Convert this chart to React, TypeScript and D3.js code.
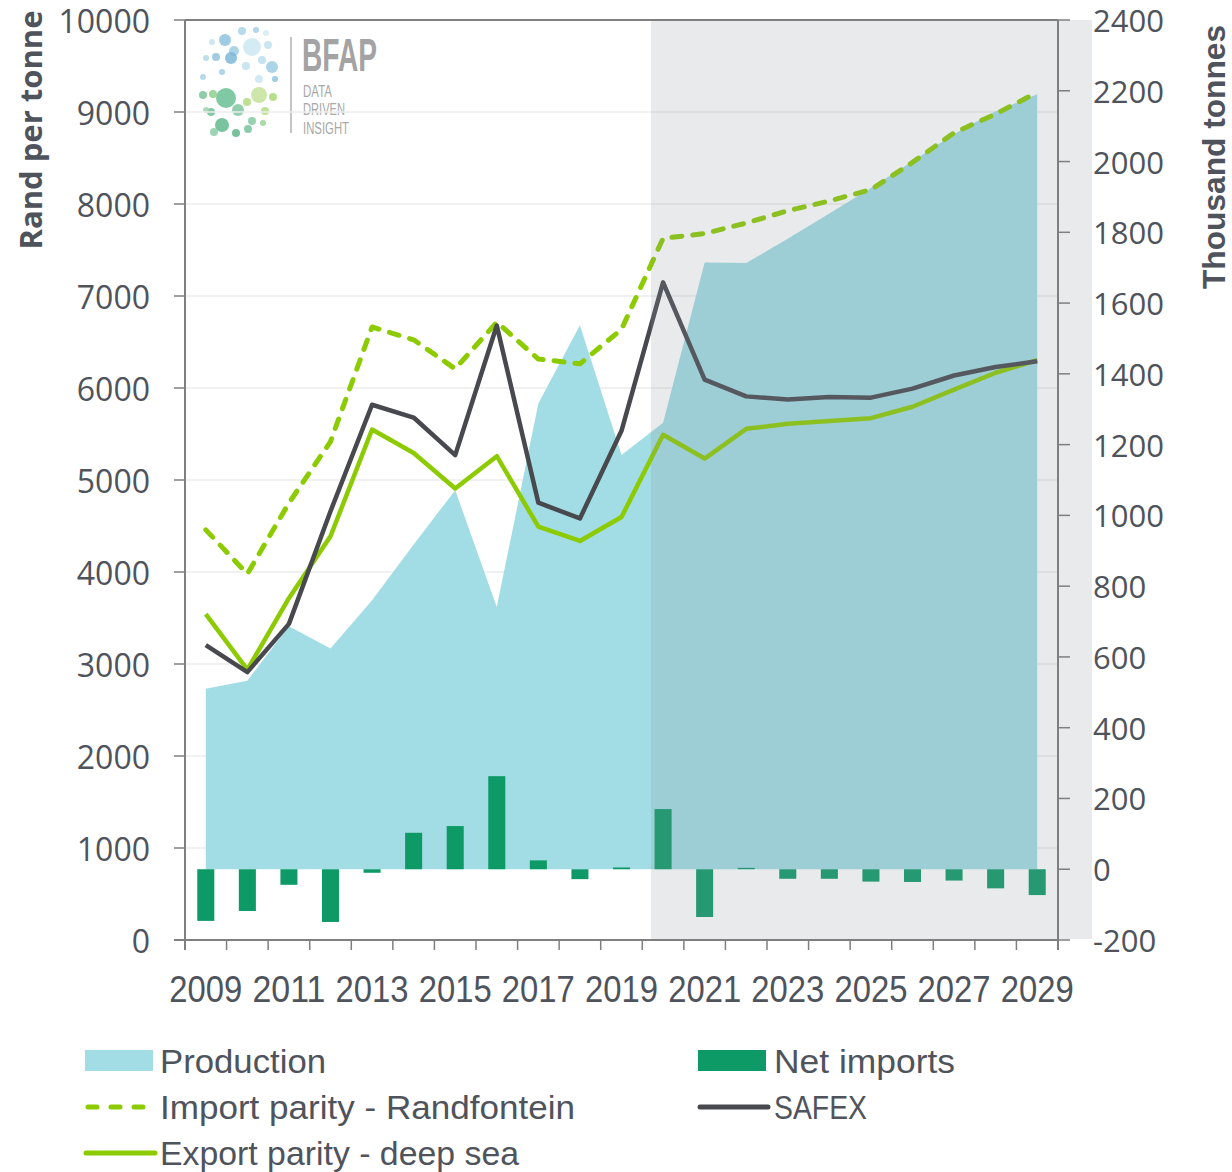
import React, { useEffect, useRef } from 'react';
import * as d3 from 'd3';

const years = ['2009', '2010', '2011', '2012', '2013', '2014', '2015', '2016', '2017', '2018', '2019',
  '2020', '2021', '2022', '2023', '2024', '2025', '2026', '2027', '2028', '2029'];
const labelYears = ['2009', '2011', '2013', '2015', '2017', '2019', '2021', '2023', '2025', '2027', '2029'];

// thousand tonnes (right axis)
const production = [510, 533, 687, 624, 760, 918, 1071, 741, 1316, 1537, 1171, 1262, 1715, 1713, 1782, 1853, 1925, 2001, 2078, 2142, 2190];
const netImports = [-146, -118, -44, -149, -10, 103, 122, 263, 25, -28, 5, 170, -135, 4, -27, -27, -35, -36, -32, -54, -73];

// rand per tonne (left axis)
const importParity = [4458, 3979, 4750, 5418, 6663, 6524, 6208, 6716, 6315, 6263, 6638, 7627, 7679, 7793, 7927, 8033, 8157, 8453, 8774, 8978, 9213];
const safex = [3204, 2912, 3436, 4660, 5818, 5679, 5271, 6679, 4753, 4582, 5535, 7148, 6091, 5909, 5876, 5901, 5895, 5993, 6136, 6228, 6290];
const exportParity = [3543, 2939, 3715, 4388, 5549, 5293, 4908, 5259, 4493, 4337, 4598, 5492, 5233, 5556, 5611, 5641, 5672, 5796, 5982, 6166, 6302];

const leftTicks = [0, 1000, 2000, 3000, 4000, 5000, 6000, 7000, 8000, 9000, 10000];
const rightTicks = [-200, 0, 200, 400, 600, 800, 1000, 1200, 1400, 1600, 1800, 2000, 2200, 2400];
const projectionStart = '2020';

const TEXT = '#4f535c';
const AXIS = '#7f7f7f';
const LIME = '#8ccb00';
const NUM_FONT = '"Open Sans", "DejaVu Sans", sans-serif';
// no narrow face installed: squeeze Liberation Sans with textLength
const NARROW = '"Liberation Sans", Arial, sans-serif';

const App: React.FC = () => {
  const svgRef = useRef<SVGSVGElement>(null);

  useEffect(() => {
    if (!svgRef.current) return;
    const W = 1232, H = 1172;
    const left = 185, right = 1058, top = 20, bottom = 940;

    const svg = d3.select(svgRef.current);
    svg.selectAll('*').remove();
    svg.attr('width', W).attr('height', H);

    // narrow text helper
    const narrow = (g: any, txt: string, px: number, py: number, size: number, len: number, anchor = 'start') =>
      g.append('text').attr('x', px).attr('y', py).attr('font-family', NARROW).attr('font-size', size)
        .attr('text-anchor', anchor).attr('dominant-baseline', 'central')
        .attr('textLength', len).attr('lengthAdjust', 'spacingAndGlyphs').text(txt);

    const x = d3.scaleBand<string>().domain(years).range([left, right]);
    const bw = x.bandwidth();
    const cx = (y: string) => (x(y) as number) + bw / 2;
    const yL = d3.scaleLinear().domain([0, 10000]).range([bottom, top]);
    const yR = d3.scaleLinear().domain([-200, 2400]).range([bottom, top]);

    // logo
    const logo = svg.append('g');
    const dots = [
      [225, 40, 6, '#8cc3de'], [242, 31, 4, '#a9d3e8'], [234, 51, 5, '#9fcbe3'], [252, 47, 9, '#cde8f1'],
      [231, 58, 6, '#7fb6d6'], [216, 57, 4, '#93c2dd'], [272, 67, 6, '#9ccce4'], [262, 60, 4, '#b9def0'],
      [206, 58, 3, '#b1d8ea'], [256, 30, 3, '#a5d0e6'], [268, 45, 4, '#c3e2ef'], [203, 77, 3, '#a8d4e8'],
      [275, 79, 3, '#8fc3df'], [246, 66, 4, '#bfe0ee'], [222, 72, 3, '#a0cfe4'], [259, 79, 4, '#cbe6f2'],
      [212, 42, 3, '#c6e3ef'], [266, 33, 3, '#d5ebf3'],
      [226, 98, 10, '#6bbf94'], [203, 95, 4, '#7cc49a'], [213, 94, 4, '#8dcf8a'], [259, 95, 8, '#c3e39a'],
      [273, 97, 4, '#a9d877'], [247, 102, 4, '#b2dc7a'], [238, 110, 6, '#7fc7a0'], [222, 125, 7, '#62b88e'],
      [211, 112, 4, '#6fbe96'], [252, 121, 4, '#84c9a2'], [265, 111, 4, '#b5dc82'], [236, 133, 4, '#5fb68d'],
      [248, 129, 4, '#78c39c'], [214, 132, 4, '#8ccda8'], [263, 123, 3, '#9ad39a'], [206, 110, 3, '#9fd4b0']
    ];
    logo.selectAll('circle').data(dots).join('circle')
      .attr('cx', d => d[0] as number).attr('cy', d => d[1] as number).attr('r', d => d[2] as number)
      .attr('fill', d => d[3] as string).attr('fill-opacity', 0.85);
    logo.append('line').attr('x1', 291).attr('x2', 291).attr('y1', 37).attr('y2', 133)
      .attr('stroke', '#c4c4c4').attr('stroke-width', 2);
    narrow(logo, 'BFAP', 302, 55, 46, 75).attr('fill', '#a3a3a3').attr('font-weight', 'bold');
    narrow(logo, 'DATA', 303, 91, 16, 29).attr('fill', '#a8a8a8');
    narrow(logo, 'DRIVEN', 303, 109.5, 16, 42).attr('fill', '#a8a8a8');
    narrow(logo, 'INSIGHT', 303, 128, 16, 46).attr('fill', '#a8a8a8');

    // gridlines
    svg.append('g').selectAll('line').data(leftTicks.filter(t => t > 0 && t < 10000)).join('line')
      .attr('x1', left).attr('x2', right).attr('y1', d => yL(d)).attr('y2', d => yL(d))
      .attr('stroke', '#ececec').attr('stroke-width', 1.5);

    // production area
    const area = d3.area<number>()
      .x((_, i) => cx(years[i]))
      .y0(yR(0))
      .y1(d => yR(d));
    svg.append('path').datum(production).attr('d', area).attr('fill', '#a2dce4');

    // net imports bars
    const barW = bw * 0.41;
    svg.append('g').selectAll('rect').data(netImports).join('rect')
      .attr('x', (_, i) => cx(years[i]) - barW / 2)
      .attr('width', barW)
      .attr('y', d => Math.min(yR(d), yR(0)))
      .attr('height', d => Math.abs(yR(d) - yR(0)))
      .attr('fill', '#0e9a67');

    // price lines
    const line = d3.line<number>().x((_, i) => cx(years[i])).y(d => yL(d));
    svg.append('path').datum(importParity).attr('d', line).attr('fill', 'none')
      .attr('stroke', LIME).attr('stroke-width', 5).attr('stroke-dasharray', '10 11')
      .attr('stroke-linecap', 'round').attr('stroke-linejoin', 'round');
    svg.append('path').datum(exportParity).attr('d', line).attr('fill', 'none')
      .attr('stroke', LIME).attr('stroke-width', 4.5).attr('stroke-linejoin', 'round');
    svg.append('path').datum(safex).attr('d', line).attr('fill', 'none')
      .attr('stroke', '#48494f').attr('stroke-width', 4.5).attr('stroke-linejoin', 'round');

    // projection shading
    const shadeX = (x(projectionStart) as number) + bw * 0.21;
    svg.append('rect').attr('x', shadeX).attr('y', top).attr('width', 1092 - shadeX).attr('height', bottom - top - 1)
      .attr('fill', 'rgb(140,148,158)').attr('fill-opacity', 0.2);

    // axes
    const ax = svg.append('g').attr('stroke', AXIS);
    ax.append('line').attr('x1', left).attr('x2', right).attr('y1', top).attr('y2', top).attr('stroke-width', 2);
    ax.append('line').attr('x1', left).attr('x2', left).attr('y1', top).attr('y2', bottom + 10).attr('stroke-width', 2);
    ax.append('line').attr('x1', right).attr('x2', right).attr('y1', top).attr('y2', bottom + 10).attr('stroke-width', 2);
    ax.append('line').attr('x1', left - 11).attr('x2', right).attr('y1', bottom).attr('y2', bottom).attr('stroke-width', 2);
    ax.selectAll('line.lt').data(leftTicks).join('line')
      .attr('x1', left - 11).attr('x2', left).attr('y1', d => yL(d)).attr('y2', d => yL(d)).attr('stroke-width', 1.5);
    ax.selectAll('line.rt').data(rightTicks).join('line')
      .attr('x1', right).attr('x2', right + 12).attr('y1', d => yR(d)).attr('y2', d => yR(d)).attr('stroke-width', 1.5);
    ax.selectAll('line.xt').data(years.slice(1)).join('line')
      .attr('x1', d => x(d) as number).attr('x2', d => x(d) as number)
      .attr('y1', bottom).attr('y2', bottom + 10).attr('stroke-width', 1.5);

    // tick labels
    svg.append('g').selectAll('text').data(leftTicks).join('text')
      .attr('x', 150).attr('y', d => yL(d)).attr('text-anchor', 'end').attr('dominant-baseline', 'central')
      .attr('font-family', NUM_FONT).attr('font-size', 32).attr('fill', TEXT).text(d => String(d));
    svg.append('g').selectAll('text').data(rightTicks).join('text')
      .attr('x', 1093).attr('y', d => yR(d)).attr('text-anchor', 'start').attr('dominant-baseline', 'central')
      .attr('font-family', NUM_FONT).attr('font-size', 31).attr('fill', TEXT).text(d => String(d));
    const xl = svg.append('g').attr('fill', TEXT);
    labelYears.forEach(d => narrow(xl, d, cx(d), 989, 37, 73, 'middle'));

    // axis titles
    svg.append('text').attr('transform', 'translate(30,130) rotate(-90)').attr('text-anchor', 'middle')
      .attr('dominant-baseline', 'central').attr('font-family', NUM_FONT).attr('font-weight', 'bold')
      .attr('font-size', 31).attr('fill', TEXT).text('Rand per tonne');
    const rt = svg.append('g').attr('transform', 'translate(1214,157) rotate(-90)').attr('fill', TEXT);
    narrow(rt, 'Thousand tonnes', 0, 0, 32, 264, 'middle').attr('font-weight', 'bold');

    // legend
    const lg = svg.append('g').attr('fill', TEXT);
    lg.append('rect').attr('x', 85).attr('y', 1050).attr('width', 68).attr('height', 21).attr('fill', '#a2dce4');
    narrow(lg, 'Production', 160, 1061, 34, 166);
    lg.append('rect').attr('x', 698).attr('y', 1050).attr('width', 68).attr('height', 21).attr('fill', '#0e9a67');
    narrow(lg, 'Net imports', 774, 1061, 34, 181);
    lg.append('line').attr('x1', 88).attr('x2', 151).attr('y1', 1107).attr('y2', 1107).attr('stroke', LIME)
      .attr('stroke-width', 5).attr('stroke-dasharray', '9 14').attr('stroke-linecap', 'round');
    narrow(lg, 'Import parity - Randfontein', 160, 1107, 34, 415);
    lg.append('line').attr('x1', 700).attr('x2', 768).attr('y1', 1107).attr('y2', 1107).attr('stroke', '#48494f')
      .attr('stroke-width', 5).attr('stroke-linecap', 'round');
    narrow(lg, 'SAFEX', 774, 1107, 34, 93);
    lg.append('line').attr('x1', 86).attr('x2', 155).attr('y1', 1153).attr('y2', 1153).attr('stroke', LIME)
      .attr('stroke-width', 5).attr('stroke-linecap', 'round');
    narrow(lg, 'Export parity - deep sea', 160, 1153, 34, 359);
  }, []);

  return (
    <svg ref={svgRef} style={{ position: 'absolute', left: 0, top: 0, display: 'block', background: '#fff' }} />
  );
};

export default App;
